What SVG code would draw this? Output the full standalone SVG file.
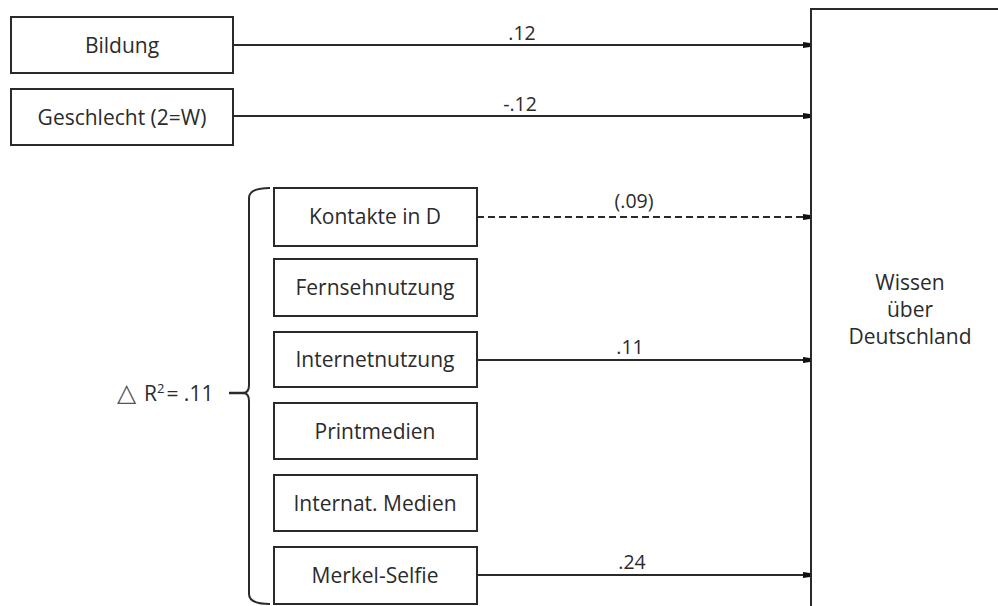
<svg xmlns="http://www.w3.org/2000/svg" width="998" height="606" viewBox="0 0 998 606">
<defs>
<style>
.box{fill:#fff;stroke:#2a2a2a;stroke-width:2}
.t{font-family:"Open Sans","Liberation Sans",sans-serif;font-size:21px;fill:#2b2b2b;text-anchor:middle}
.n{font-family:"Open Sans","Liberation Sans",sans-serif;font-size:19.5px;fill:#2b2b2b;text-anchor:middle}
.c{stroke:#2a2a2a;stroke-width:2;fill:none;marker-end:url(#ah)}
.d{stroke-dasharray:7 4}
</style>
<marker id="ah" markerUnits="userSpaceOnUse" markerWidth="8" markerHeight="8" refX="7" refY="4" orient="auto">
<path d="M0,1 L7,2 L7,6 L0,7 Z" fill="#111"/>
</marker>
</defs>
<rect width="998" height="606" fill="#fff"/>
<g id="connectors">
<line class="c" x1="233" y1="45" x2="810" y2="45"/>
<line class="c" x1="233" y1="116" x2="810" y2="116"/>
<line class="c d" x1="477" y1="217" x2="810" y2="217"/>
<line class="c" x1="477" y1="360" x2="810" y2="360"/>
<line class="c" x1="477" y1="575" x2="810" y2="575"/>
<text class="n" x="522" y="40">.12</text>
<text class="n" x="520" y="111">-.12</text>
<text class="n" x="634" y="208">(.09)</text>
<text class="n" x="630" y="354">.11</text>
<text class="n" x="632" y="569">.24</text>
</g>
<g id="bildung"><rect class="box" x="11" y="17" width="222" height="56"/><text class="t" x="122" y="53">Bildung</text></g>
<g id="geschlecht"><rect class="box" x="11" y="89" width="222" height="56"/><text class="t" x="122" y="125">Geschlecht (2=W)</text></g>
<g id="kontakte"><rect class="box" x="274" y="188" width="203" height="58"/><text class="t" x="375" y="224">Kontakte in D</text></g>
<g id="fernseh"><rect class="box" x="274" y="259" width="203" height="57"/><text class="t" x="375" y="295">Fernsehnutzung</text></g>
<g id="internet"><rect class="box" x="274" y="332" width="203" height="55"/><text class="t" x="375" y="367">Internetnutzung</text></g>
<g id="print"><rect class="box" x="274" y="403" width="203" height="56"/><text class="t" x="375" y="439">Printmedien</text></g>
<g id="internat"><rect class="box" x="274" y="475" width="203" height="56"/><text class="t" x="375" y="511">Internat. Medien</text></g>
<g id="merkel"><rect class="box" x="274" y="547" width="203" height="57"/><text class="t" x="375" y="583">Merkel-Selfie</text></g>
<g id="wissen"><rect class="box" x="811" y="9" width="200" height="620"/>
<text class="t" x="910" y="290">Wissen</text>
<text class="t" x="910" y="317">über</text>
<text class="t" x="910" y="344">Deutschland</text></g>
<g id="bracket">
<path d="M270,188 Q249,188 249,198 L249,385 Q249,393 243,393 Q249,393 249,401 L249,594 Q249,604 270,604" fill="none" stroke="#2a2a2a" stroke-width="2"/>
<line x1="229" y1="393" x2="244" y2="393" stroke="#2a2a2a" stroke-width="2.5"/>
<text class="n" x="117" y="401" style="text-anchor:start;font-size:21px"><tspan font-size="25" fill="#555">△</tspan><tspan dx="8">R</tspan><tspan font-size="13" dy="-8">2</tspan><tspan dy="8" dx="2">= .11</tspan></text>
</g>
</svg>
